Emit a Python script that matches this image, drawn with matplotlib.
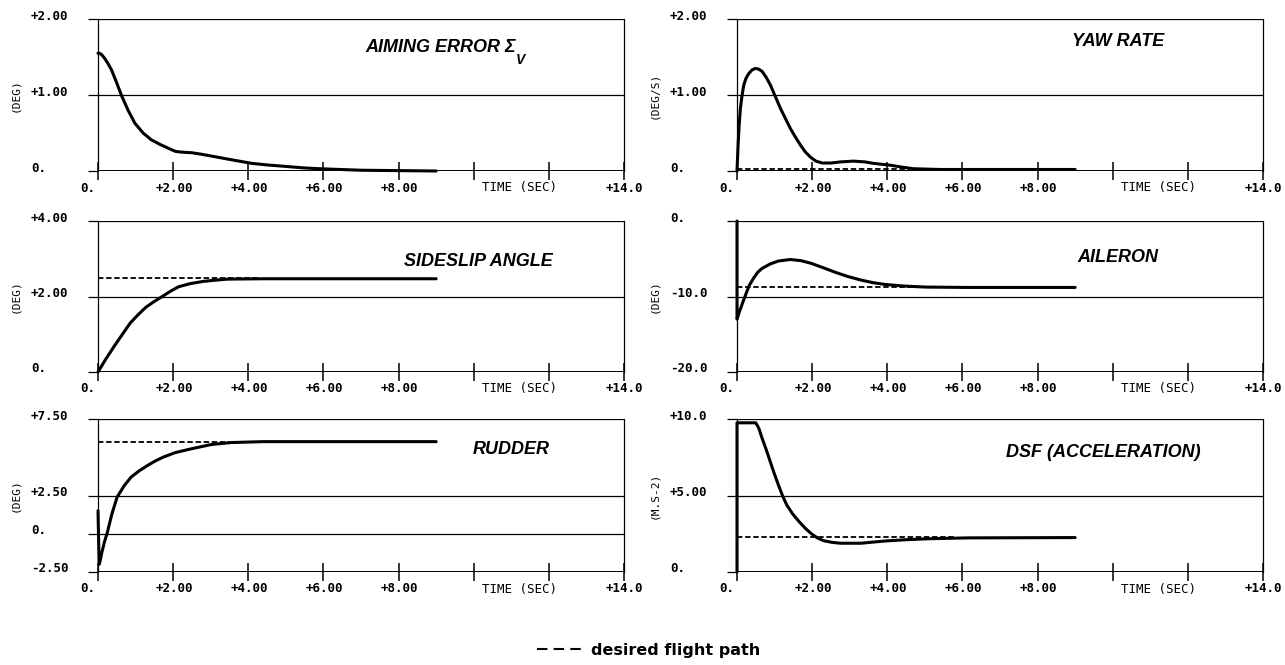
import matplotlib
matplotlib.use("Agg")
import matplotlib.pyplot as plt
from matplotlib.lines import Line2D

# time histories (time in s)
aim_t = [0.0, 0.04, 0.1, 0.18, 0.27, 0.36, 0.49, 0.62, 0.8, 0.98, 1.2, 1.42, 1.65, 1.87, 2.05,
         2.18, 2.5, 2.76, 3.2, 3.64, 4.1, 4.5, 5.0, 5.5, 5.9, 7.0, 9.0]
aim_y = [1.55, 1.55, 1.53, 1.48, 1.41, 1.33, 1.17, 1.0, 0.8, 0.63, 0.5, 0.41, 0.35, 0.30, 0.26,
         0.25, 0.24, 0.22, 0.18, 0.14, 0.10, 0.08, 0.06, 0.04, 0.03, 0.01, 0.0]

yaw_t = [0.0, 0.03, 0.06, 0.09, 0.13, 0.18, 0.24, 0.31, 0.4, 0.49, 0.58, 0.67, 0.78, 0.89, 1.02,
         1.16, 1.29, 1.42, 1.55, 1.69, 1.82, 1.96, 2.1, 2.27, 2.5, 2.76, 3.1, 3.4, 3.64, 4.1,
         4.4, 4.7, 5.4, 9.0]
yaw_y = [0.0, 0.35, 0.62, 0.82, 0.98, 1.13, 1.22, 1.28, 1.33, 1.35, 1.34, 1.31, 1.23, 1.13, 0.98,
         0.82, 0.69, 0.56, 0.45, 0.34, 0.25, 0.18, 0.13, 0.105, 0.105, 0.12, 0.13, 0.12, 0.10, 0.075,
         0.05, 0.03, 0.02, 0.02]

slip_t = [0.0, 0.2, 0.43, 0.65, 0.86, 1.07, 1.28, 1.5, 1.71, 1.93, 2.15, 2.45, 2.8, 3.1, 3.44, 4.4, 9.0]
slip_y = [0.0, 0.33, 0.68, 1.0, 1.3, 1.52, 1.72, 1.87, 2.0, 2.14, 2.26, 2.34, 2.4, 2.43, 2.46, 2.47, 2.47]

ail_t = [0.0, 0.0, 0.08, 0.16, 0.25, 0.33, 0.45, 0.55, 0.66, 0.88, 1.1, 1.42, 1.7, 1.97, 2.3,
         2.62, 2.95, 3.28, 3.6, 3.93, 4.4, 5.0, 6.1, 9.0]
ail_y = [0.0, -13.0, -11.8, -10.7, -9.5, -8.5, -7.5, -6.8, -6.3, -5.7, -5.3, -5.1, -5.25, -5.6, -6.2,
         -6.8, -7.35, -7.8, -8.15, -8.4, -8.6, -8.75, -8.8, -8.8]

rud_t = [0.0, 0.03, 0.06, 0.1, 0.17, 0.25, 0.37, 0.51, 0.7, 0.88, 1.1, 1.31, 1.52, 1.73, 2.05,
         2.48, 3.01, 3.54, 4.39, 9.0]
rud_y = [1.5, -2.0, -1.75, -1.25, -0.55, 0.1, 1.3, 2.4, 3.15, 3.7, 4.12, 4.45, 4.75, 5.0, 5.3,
         5.55, 5.83, 5.96, 6.02, 6.02]

dsf_t = [0.0, 0.0, 0.5, 0.58, 0.66, 0.77, 0.88, 0.99, 1.1, 1.21, 1.32, 1.48, 1.65, 1.82, 1.98,
         2.14, 2.3, 2.52, 2.75, 3.3, 3.6, 3.96, 4.5, 5.05, 6.15, 9.0]
dsf_y = [0.0, 9.75, 9.75, 9.4, 8.8, 8.05, 7.25, 6.45, 5.7, 5.0, 4.4, 3.8, 3.3, 2.85, 2.5,
         2.23, 2.05, 1.94, 1.88, 1.88, 1.95, 2.03, 2.11, 2.17, 2.23, 2.25]

# desired flight path levels and how far the dashed line runs
desired_level = [None, 0.02, 2.5, -8.8, 6.0, 2.28]
desired_end = [None, 4.6, 4.3, 5.9, 3.5, 5.8]

titles = ["AIMING ERROR \u03a3", "YAW RATE", "SIDESLIP ANGLE", "AILERON", "RUDDER", "DSF (ACCELERATION)"]
units = ["(DEG)", "(DEG/S)", "(DEG)", "(DEG)", "(DEG)", "(M.S-2)"]
y_limits = [(0, 2), (0, 2), (0, 4), (-20, 0), (-2.5, 7.5), (0, 10)]
y_ticks = [[0, 1, 2], [0, 1, 2], [0, 2, 4], [-20, -10, 0], [-2.5, 0, 2.5, 7.5], [0, 5, 10]]
y_tick_labels = [["0.", "+1.00", "+2.00"], ["0.", "+1.00", "+2.00"], ["0.", "+2.00", "+4.00"],
                 ["-20.0", "-10.0", "0."], ["-2.50", "0.", "+2.50", "+7.50"], ["0.", "+5.00", "+10.0"]]
x_ticks = [0, 2, 4, 6, 8, 10, 12, 14]
x_tick_labels = ["0.", "+2.00", "+4.00", "+6.00", "+8.00", "", "", "+14.0"]

curves = [(aim_t, aim_y), (yaw_t, yaw_y), (slip_t, slip_y), (ail_t, ail_y), (rud_t, rud_y), (dsf_t, dsf_y)]

# title placement (axes fraction)
title_pos = [(0.508, 0.81), (0.637, 0.85), (0.582, 0.735), (0.648, 0.755), (0.713, 0.80), (0.511, 0.78)]

W, H = 1285, 665
fig = plt.figure(figsize=(W / 100, H / 100), dpi=100)

col_left = [98, 737]
rows = [(19, 171), (221, 372), (419, 572)]
mono = "DejaVu Sans Mono"

for i in range(6):
    r, c = divmod(i, 2)
    top, bot = rows[r]
    ax = fig.add_axes([col_left[c] / W, 1 - bot / H, 526 / W, (bot - top) / H])
    ax.set_xlim(0, 14)
    ax.set_ylim(*y_limits[i])
    for s in ["top", "bottom"]:
        ax.spines[s].set_visible(False)
    for s in ["left", "right"]:
        ax.spines[s].set_linewidth(0.9)

    # horizontal reference lines at each y tick
    for yv in y_ticks[i]:
        lw = 1.4 if yv == y_limits[i][0] else 0.9
        ax.axhline(yv, color="black", lw=lw, zorder=1)

    ax.set_yticks(y_ticks[i])
    ax.set_yticklabels([])
    ax.tick_params(axis="y", direction="out", length=7, width=0.9)
    ax.set_xticks(x_ticks)
    ax.set_xticklabels([])
    ax.tick_params(axis="x", direction="inout", length=13.5, width=1.1)

    for yv, lab in zip(y_ticks[i], y_tick_labels[i]):
        ax.annotate(lab, xy=(0, yv), xycoords=("axes fraction", "data"),
                    xytext=(-67, 3), textcoords="offset pixels",
                    ha="left", va="center", fontsize=9, fontweight="bold", family=mono)
    for xv, lab in zip(x_ticks, x_tick_labels):
        if lab:
            ax.annotate(lab, xy=(xv, 0), xycoords=("data", "axes fraction"),
                        xytext=(-18, -17), textcoords="offset pixels",
                        ha="left", va="center", fontsize=9, fontweight="bold", family=mono)
    ax.annotate("TIME (SEC)", xy=(10, 0), xycoords=("data", "axes fraction"),
                xytext=(8, -17), textcoords="offset pixels",
                ha="left", va="center", fontsize=9, family=mono)

    ax.annotate(units[i], xy=(0, 0.5), xycoords="axes fraction",
                xytext=(-83, 0), textcoords="offset pixels",
                ha="center", va="center", rotation=90, fontsize=8, family=mono)

    t, y = curves[i]
    ax.plot(t, y, color="black", lw=2.2, solid_joinstyle="round", solid_capstyle="round",
            zorder=3, clip_on=False)
    if desired_level[i] is not None:
        ax.plot([0, desired_end[i]], [desired_level[i]] * 2, color="black", lw=1.3,
                ls=(0, (3, 1.5)), zorder=2)

    tx = ax.text(*title_pos[i], titles[i], transform=ax.transAxes, ha="left", va="center",
                 fontsize=13, fontweight="bold", fontstyle="italic", family="Liberation Sans")
    if i == 0:
        ax.annotate("V", xy=(1, 0), xycoords=tx, xytext=(0, -4), textcoords="offset pixels",
                    ha="left", va="center", fontsize=10, fontweight="bold",
                    fontstyle="italic", family="Liberation Sans")

handle = Line2D([], [], color="black", lw=1.5, ls=(0, (5, 3)))
fig.legend([handle], ["desired flight path"], loc="center", bbox_to_anchor=(0.505, 1 - 650 / H),
           frameon=False, handlelength=3.0, handletextpad=0.4,
           prop={"family": "DejaVu Sans", "size": 11.5, "weight": "bold"})

fig.savefig("out.png", dpi=100)
